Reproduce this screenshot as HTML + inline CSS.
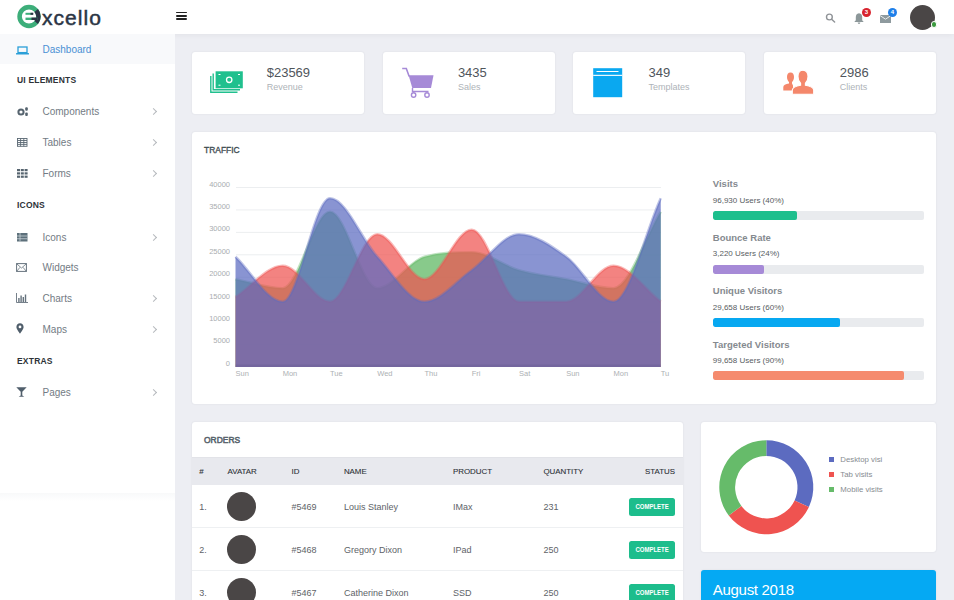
<!DOCTYPE html>
<html><head><meta charset="utf-8">
<style>
*{margin:0;padding:0;box-sizing:border-box}
html,body{width:954px;height:600px;overflow:hidden;background:#edeef3;font-family:"Liberation Sans",sans-serif;position:relative}
.abs{position:absolute}
.t{position:absolute;white-space:nowrap;line-height:1}
#header{left:0;top:0;width:954px;height:34px;background:#fff;box-shadow:0 1px 6px rgba(0,0,0,0.05)}
#sidebar{left:0;top:34px;width:175px;height:566px;background:#fff}
.card{position:absolute;background:#fff;border-radius:3px;box-shadow:0 0 2px rgba(40,40,70,0.10)}
.side-item{color:#737b84;font-size:10px}
.side-head{color:#2d3237;font-size:8.5px;font-weight:bold;letter-spacing:0.2px}
.chev{position:absolute;width:5px;height:5px;border-right:1px solid #b5b9bd;border-top:1px solid #b5b9bd;transform:rotate(45deg)}
.num{font-size:13px;color:#4f555b}
.lbl{font-size:9px;color:#aeb3b8}
.pl{font-size:9.5px;color:#858a8f;font-weight:bold}
.pu{font-size:8px;color:#585d62}
.bar{position:absolute;left:713px;width:211px;height:9px;background:#e9ebee;border-radius:2px;overflow:hidden}
.bar div{height:9px;border-radius:2px}
.th{font-size:7.9px;color:#2c3136;-webkit-text-stroke:0.1px #2c3136}
.td{font-size:9px;color:#5e6368}
.av{position:absolute;width:29px;height:29px;border-radius:50%;background:#4a4646}
.badge{position:absolute;left:628.8px;width:46.2px;height:18px;background:#1dbd8c;border-radius:2.5px;color:#fff;font-size:7.6px;font-weight:bold;text-align:center;line-height:18px}
.badge span{display:inline-block;transform:scaleX(0.79)}
.yl{font-size:7.5px;color:#a9adb0;text-align:right;width:41px}
.xl{font-size:7.5px;color:#adb1b4}
</style></head><body>

<!-- header -->
<div id="header" class="abs"></div>
<svg class="abs" style="left:14px;top:2px" width="30" height="30" viewBox="0 0 30 30">
  <circle cx="15" cy="14.5" r="9.4" fill="none" stroke="#3dae7a" stroke-width="4.6"/>
  <path d="M22.2,8.5 A9.4,9.4 0 0 1 22.2,20.5" fill="none" stroke="#2b3545" stroke-width="4.6"/>
  <rect x="11.5" y="10.8" width="7.5" height="2" fill="#3dae7a"/>
  <rect x="16.5" y="10.8" width="2.8" height="2" fill="#2b3545"/>
  <rect x="11.5" y="15.6" width="12" height="2.4" fill="#3dae7a"/>
  <rect x="17.5" y="15.6" width="6" height="2.4" fill="#2b3545"/>
</svg>
<div class="t" style="left:42px;top:7px;font-size:21px;color:#2b3545;letter-spacing:1.05px;-webkit-text-stroke:0.5px #2b3545">xcello</div>
<div class="abs" style="left:176px;top:11.5px;width:11px;height:1.6px;background:#222;border-radius:1px"></div>
<div class="abs" style="left:176px;top:15px;width:11px;height:1.6px;background:#222;border-radius:1px"></div>
<div class="abs" style="left:176px;top:18.4px;width:11px;height:1.6px;background:#222;border-radius:1px"></div>

<svg class="abs" style="left:824px;top:11px" width="14" height="14" viewBox="0 0 14 14">
  <circle cx="5.4" cy="6" r="2.9" fill="none" stroke="#909498" stroke-width="1.4"/>
  <line x1="7.6" y1="8.3" x2="10.6" y2="11" stroke="#909498" stroke-width="1.5" stroke-linecap="round"/>
</svg>
<svg class="abs" style="left:853px;top:12px" width="12" height="13" viewBox="0 0 12 13">
  <path d="M6,1.2 C3.6,1.2 2.8,3.4 2.8,5.6 L2.8,8.2 L1.3,9.9 L10.7,9.9 L9.2,8.2 L9.2,5.6 C9.2,3.4 8.4,1.2 6,1.2 Z" fill="#8c9799"/>
  <path d="M4.7,10.6 a1.3,1.3 0 0 0 2.6,0 Z" fill="#8c9799"/>
</svg>
<div class="abs" style="left:862px;top:8px;width:9px;height:9px;border-radius:50%;background:#d8242f;color:#fff;font-size:6px;font-weight:bold;text-align:center;line-height:9px">3</div>
<svg class="abs" style="left:880px;top:15px" width="11" height="8" viewBox="0 0 11 8">
  <rect x="0" y="0" width="11" height="8" fill="#8e9a9e"/>
  <path d="M0,0.5 L5.5,4.2 L11,0.5" fill="none" stroke="#fff" stroke-width="0.8"/>
</svg>
<div class="abs" style="left:888px;top:8px;width:9px;height:9px;border-radius:50%;background:#1e7fe9;color:#fff;font-size:6px;font-weight:bold;text-align:center;line-height:9px">4</div>
<div class="abs" style="left:910px;top:5px;width:25px;height:25px;border-radius:50%;background:#4a4646"></div>
<div class="abs" style="left:930.5px;top:21.3px;width:6.5px;height:6.5px;border-radius:50%;background:#3a9a3e;border:1.2px solid #fff"></div>

<!-- sidebar -->
<div id="sidebar" class="abs"></div>
<div class="abs" style="left:0;top:493px;width:175px;height:8px;background:linear-gradient(#f8f9fa,#fff)"></div>
<div class="abs" style="left:0;top:34px;width:175px;height:30px;background:#f8f9fb"></div>
<svg class="abs" style="left:16px;top:46px" width="13" height="9" viewBox="0 0 13 9">
  <rect x="2" y="1" width="9" height="5.6" fill="none" stroke="#2a9fd8" stroke-width="1.3"/>
  <rect x="0" y="7" width="13" height="1.6" rx="0.5" fill="#2a9fd8"/>
</svg>
<div class="t" style="left:42.5px;top:45.2px;font-size:10px;color:#4a90d4">Dashboard</div>

<div class="t side-head" style="left:17px;top:75.5px">UI ELEMENTS</div>

<svg class="abs" style="left:16.5px;top:106.5px" width="12" height="10" viewBox="0 0 12 10">
  <circle cx="4" cy="5" r="2.6" fill="none" stroke="#56646f" stroke-width="2"/>
  <rect x="8.2" y="0.3" width="2.6" height="3.4" rx="1" fill="#56646f"/>
  <rect x="8.2" y="5.6" width="2.6" height="3.4" rx="1" fill="#56646f"/>
</svg>
<div class="t side-item" style="left:42.5px;top:107.0px">Components</div>
<div class="chev" style="left:151px;top:109px"></div>

<svg class="abs" style="left:16.5px;top:138px" width="11" height="9" viewBox="0 0 11 9">
  <g stroke="#5a6873" stroke-width="0.9" fill="none">
    <rect x="0.5" y="0.5" width="9.5" height="7.8"/>
    <line x1="0.5" y1="2.5" x2="10" y2="2.5"/><line x1="0.5" y1="4.5" x2="10" y2="4.5"/><line x1="0.5" y1="6.4" x2="10" y2="6.4"/>
    <line x1="3.6" y1="0.5" x2="3.6" y2="8.3"/><line x1="6.8" y1="0.5" x2="6.8" y2="8.3"/>
  </g>
</svg>
<div class="t side-item" style="left:42.5px;top:138.3px">Tables</div>
<div class="chev" style="left:151px;top:140.3px"></div>

<svg class="abs" style="left:16.5px;top:169.3px" width="11" height="9" viewBox="0 0 11 9">
  <g fill="#56646f">
    <rect x="0" y="0" width="3" height="2.2"/><rect x="3.8" y="0" width="3" height="2.2"/><rect x="7.6" y="0" width="3" height="2.2"/>
    <rect x="0" y="3.3" width="3" height="2.2"/><rect x="3.8" y="3.3" width="3" height="2.2"/><rect x="7.6" y="3.3" width="3" height="2.2"/>
    <rect x="0" y="6.6" width="3" height="2.2"/><rect x="3.8" y="6.6" width="3" height="2.2"/><rect x="7.6" y="6.6" width="3" height="2.2"/>
  </g>
</svg>
<div class="t side-item" style="left:42.5px;top:169.4px">Forms</div>
<div class="chev" style="left:151px;top:171.4px"></div>

<div class="t side-head" style="left:17px;top:201.2px">ICONS</div>

<svg class="abs" style="left:16.5px;top:233px" width="11" height="9" viewBox="0 0 11 9">
  <rect x="0" y="0" width="10.5" height="8.5" fill="#5d707b"/>
  <g fill="#c9d1d6"><rect x="0" y="2.6" width="10.5" height="0.8"/><rect x="0" y="5.4" width="10.5" height="0.8"/><rect x="2.6" y="0" width="0.8" height="8.5"/></g>
</svg>
<div class="t side-item" style="left:42.5px;top:232.7px">Icons</div>
<div class="chev" style="left:151px;top:234.7px"></div>

<svg class="abs" style="left:16px;top:263px" width="11" height="9" viewBox="0 0 11 9">
  <rect x="0.6" y="0.6" width="9.8" height="7.8" fill="none" stroke="#66737e" stroke-width="1"/>
  <path d="M0.8,0.9 L5.5,5 L10.2,0.9 M0.8,8.2 L4,4.3 M10.2,8.2 L7,4.3" fill="none" stroke="#66737e" stroke-width="0.8"/>
</svg>
<div class="t side-item" style="left:42.5px;top:262.7px">Widgets</div>

<svg class="abs" style="left:16px;top:292.5px" width="12" height="10" viewBox="0 0 12 10">
  <path d="M0.5,0 L0.5,9.5 L12,9.5" fill="none" stroke="#66737e" stroke-width="0.9"/>
  <g fill="#66737e"><rect x="2.2" y="5" width="1.4" height="4"/><rect x="4.4" y="2.5" width="1.4" height="6.5"/><rect x="6.6" y="4" width="1.4" height="5"/><rect x="8.8" y="1.5" width="1.4" height="7.5"/></g>
</svg>
<div class="t side-item" style="left:42.5px;top:293.5px">Charts</div>
<div class="chev" style="left:151px;top:295.5px"></div>

<svg class="abs" style="left:16px;top:323px" width="8" height="11" viewBox="0 0 8 11">
  <path d="M4,0.3 C1.9,0.3 0.4,1.8 0.4,3.9 C0.4,6.2 4,10.5 4,10.5 C4,10.5 7.6,6.2 7.6,3.9 C7.6,1.8 6.1,0.3 4,0.3 Z M4,2.5 a1.4,1.4 0 1 1 0,2.8 a1.4,1.4 0 1 1 0,-2.8 Z" fill="#505e6b" fill-rule="evenodd"/>
</svg>
<div class="t side-item" style="left:42.5px;top:324.5px">Maps</div>
<div class="chev" style="left:151px;top:326.5px"></div>

<div class="t side-head" style="left:17px;top:356.5px">EXTRAS</div>

<svg class="abs" style="left:16px;top:387px" width="11" height="10" viewBox="0 0 11 10">
  <path d="M0.3,0.3 L10.7,0.3 L6.3,4.8 L6.3,8.6 L8.3,9.7 L2.7,9.7 L4.7,8.6 L4.7,4.8 Z" fill="#505e6b"/>
</svg>
<div class="t side-item" style="left:42.5px;top:387.5px">Pages</div>
<div class="chev" style="left:151px;top:389.5px"></div>

<!-- stat cards -->
<div class="card" style="left:192px;top:52px;width:172px;height:62px"></div>
<div class="card" style="left:382.7px;top:52px;width:172px;height:62px"></div>
<div class="card" style="left:573.4px;top:52px;width:172px;height:62px"></div>
<div class="card" style="left:764.1px;top:52px;width:172px;height:62px"></div>

<svg class="abs" style="left:209px;top:69px" width="36" height="26" viewBox="0 0 36 26">
  <g fill="none" stroke="#20c08e" stroke-width="1.4">
    <path d="M4.2,4.6 L4.2,20.7 L31,20.7"/>
    <path d="M1.8,7 L1.8,23.2 L28.5,23.2"/>
  </g>
  <rect x="6.6" y="2.3" width="27.2" height="17" fill="#20c08e"/>
  <circle cx="20.2" cy="10.8" r="2.7" fill="none" stroke="#fff" stroke-width="1.3"/>
  <g fill="#fff"><rect x="9.5" y="5" width="2" height="1"/><rect x="29" y="5" width="2" height="1"/><rect x="9.5" y="15.7" width="2" height="1"/><rect x="29" y="15.7" width="2" height="1"/></g>
</svg>
<div class="t num" style="left:266.7px;top:65.8px">$23569</div>
<div class="t lbl" style="left:266.7px;top:82.8px">Revenue</div>

<svg class="abs" style="left:401px;top:66.8px" width="34" height="32" viewBox="0 0 34 32">
  <path d="M1.2,1.5 L5.3,1.5 L8.2,9.5" fill="none" stroke="#a68ad7" stroke-width="1.6"/>
  <path d="M7.6,8.3 L32.5,8.3 L30,21 L11.3,21 Z" fill="#a68ad7"/>
  <path d="M11.5,21 L11.5,24.5 L27.5,24.5" fill="none" stroke="#a68ad7" stroke-width="1.4"/>
  <circle cx="12.6" cy="28" r="2.2" fill="none" stroke="#a68ad7" stroke-width="1.4"/>
  <circle cx="26" cy="28" r="2.2" fill="none" stroke="#a68ad7" stroke-width="1.4"/>
</svg>
<div class="t num" style="left:457.9px;top:65.8px">3435</div>
<div class="t lbl" style="left:457.9px;top:82.8px">Sales</div>

<svg class="abs" style="left:593px;top:67.5px" width="30" height="30" viewBox="0 0 30 30">
  <rect x="0.2" y="0.2" width="29" height="29" fill="#0aa8f0"/>
  <rect x="0.2" y="6.8" width="29" height="1.1" fill="#fff"/>
  <rect x="3.5" y="3" width="22" height="1" fill="#fff"/>
</svg>
<div class="t num" style="left:648.6px;top:65.8px">349</div>
<div class="t lbl" style="left:648.6px;top:82.8px">Templates</div>

<svg class="abs" style="left:782px;top:70px" width="33" height="25" viewBox="0 0 33 25">
  <path d="M8.5,2.5 C6,2.5 5,4.5 5,7 C5,9.5 6,11 7,12 L7,13.5 C3.5,14.2 1.3,15.2 1.3,17 L1.3,20.5 L11,20.5 L11,15.5 L10,13.5 L10,12 C11,11 12,9.5 12,7 C12,4.5 11,2.5 8.5,2.5 Z" fill="#f4876b"/>
  <path d="M21,0.3 C17.5,0.3 16,3.3 16,6.5 C16,9.8 17.2,12 18.6,13.2 L18.6,15.2 C13.5,16.2 10.3,17.5 10.3,20 L10.3,24.2 L31.7,24.2 L31.7,20 C31.7,17.5 28.5,16.2 23.4,15.2 L23.4,13.2 C24.8,12 26,9.8 26,6.5 C26,3.3 24.5,0.3 21,0.3 Z" fill="#f4876b" stroke="#fff" stroke-width="1.1"/>
</svg>
<div class="t num" style="left:839.8px;top:65.8px">2986</div>
<div class="t lbl" style="left:839.8px;top:82.8px">Clients</div>

<!-- traffic -->
<div class="card" style="left:192px;top:131.5px;width:744px;height:272.5px"></div>
<div class="t" style="left:204.3px;top:144.5px;font-size:9.4px;color:#3f4d52;-webkit-text-stroke:0.35px #3f4d52;transform:scaleX(0.9);transform-origin:0 0">TRAFFIC</div>

<svg class="abs" style="left:0;top:0" width="954" height="600" viewBox="0 0 954 600">
  <defs><clipPath id="ca"><rect x="234" y="170" width="428.5" height="197"/></clipPath></defs>
  <g stroke="#eceef0" stroke-width="1">
    <line x1="236" y1="187.50" x2="661" y2="187.50"/>
    <line x1="236" y1="209.94" x2="661" y2="209.94"/>
    <line x1="236" y1="232.38" x2="661" y2="232.38"/>
    <line x1="236" y1="254.81" x2="661" y2="254.81"/>
    <line x1="236" y1="277.25" x2="661" y2="277.25"/>
    <line x1="236" y1="299.69" x2="661" y2="299.69"/>
    <line x1="236" y1="322.12" x2="661" y2="322.12"/>
    <line x1="236" y1="344.56" x2="661" y2="344.56"/>
  </g>
  <g clip-path="url(#ca)">
  <path d="M235.50,367.0 L235.50,279.20 C251.25,282.20 267.00,288.20 282.75,288.20 C298.50,288.20 314.25,211.70 330.00,211.70 C345.75,211.70 361.50,288.20 377.25,288.20 C393.00,288.20 408.75,261.20 424.50,256.70 C440.25,252.20 456.00,252.20 471.75,252.20 C487.50,252.20 503.25,265.70 519.00,270.20 C534.75,274.70 550.50,276.20 566.25,279.20 C582.00,282.20 597.75,288.20 613.50,288.20 C629.25,288.20 645.00,237.20 660.75,211.70 L660.75,367.0 Z" fill="rgba(102,187,106,0.78)"/>
  <path d="M235.50,279.20 C251.25,282.20 267.00,288.20 282.75,288.20 C298.50,288.20 314.25,211.70 330.00,211.70 C345.75,211.70 361.50,288.20 377.25,288.20 C393.00,288.20 408.75,261.20 424.50,256.70 C440.25,252.20 456.00,252.20 471.75,252.20 C487.50,252.20 503.25,265.70 519.00,270.20 C534.75,274.70 550.50,276.20 566.25,279.20 C582.00,282.20 597.75,288.20 613.50,288.20 C629.25,288.20 645.00,237.20 660.75,211.70" fill="none" stroke="rgba(102,187,106,0.4)" stroke-width="2.6"/>
  <path d="M235.50,367.0 L235.50,297.20 C251.25,286.70 267.00,265.70 282.75,265.70 C298.50,265.70 314.25,301.70 330.00,301.70 C345.75,301.70 361.50,234.20 377.25,234.20 C393.00,234.20 408.75,279.20 424.50,279.20 C440.25,279.20 456.00,229.70 471.75,229.70 C487.50,229.70 503.25,301.70 519.00,301.70 C534.75,301.70 550.50,301.70 566.25,301.70 C582.00,301.70 597.75,265.70 613.50,265.70 C629.25,265.70 645.00,289.70 660.75,301.70 L660.75,367.0 Z" fill="rgba(239,83,80,0.72)"/>
  <path d="M235.50,297.20 C251.25,286.70 267.00,265.70 282.75,265.70 C298.50,265.70 314.25,301.70 330.00,301.70 C345.75,301.70 361.50,234.20 377.25,234.20 C393.00,234.20 408.75,279.20 424.50,279.20 C440.25,279.20 456.00,229.70 471.75,229.70 C487.50,229.70 503.25,301.70 519.00,301.70 C534.75,301.70 550.50,301.70 566.25,301.70 C582.00,301.70 597.75,265.70 613.50,265.70 C629.25,265.70 645.00,289.70 660.75,301.70" fill="none" stroke="rgba(239,83,80,0.4)" stroke-width="2.6"/>
  <path d="M235.50,367.0 L235.50,256.70 C251.25,271.70 267.00,301.70 282.75,301.70 C298.50,301.70 314.25,198.20 330.00,198.20 C345.75,198.20 361.50,239.45 377.25,256.70 C393.00,273.95 408.75,301.70 424.50,301.70 C440.25,301.70 456.00,281.45 471.75,270.20 C487.50,258.95 503.25,234.20 519.00,234.20 C534.75,234.20 550.50,245.45 566.25,256.70 C582.00,267.95 597.75,301.70 613.50,301.70 C629.25,301.70 645.00,232.70 660.75,198.20 L660.75,367.0 Z" fill="rgba(92,107,192,0.72)"/>
  <path d="M235.50,256.70 C251.25,271.70 267.00,301.70 282.75,301.70 C298.50,301.70 314.25,198.20 330.00,198.20 C345.75,198.20 361.50,239.45 377.25,256.70 C393.00,273.95 408.75,301.70 424.50,301.70 C440.25,301.70 456.00,281.45 471.75,270.20 C487.50,258.95 503.25,234.20 519.00,234.20 C534.75,234.20 550.50,245.45 566.25,256.70 C582.00,267.95 597.75,301.70 613.50,301.70 C629.25,301.70 645.00,232.70 660.75,198.20" fill="none" stroke="rgba(92,107,192,0.4)" stroke-width="2.6"/>
  <rect x="235.5" y="364.5" width="425.25" height="2.5" fill="rgba(80,70,120,0.18)"/>
  </g>
</svg>
<div class="t yl" style="left:189px;top:180.5px">40000</div>
<div class="t yl" style="left:189px;top:203px">35000</div>
<div class="t yl" style="left:189px;top:225.3px">30000</div>
<div class="t yl" style="left:189px;top:247.7px">25000</div>
<div class="t yl" style="left:189px;top:270px">20000</div>
<div class="t yl" style="left:189px;top:292.5px">15000</div>
<div class="t yl" style="left:189px;top:314.8px">10000</div>
<div class="t yl" style="left:189px;top:337.2px">5000</div>
<div class="t yl" style="left:189px;top:359.5px">0</div>
<div class="t xl" style="left:235.5px;top:370px">Sun</div>
<div class="t xl" style="left:282.7px;top:370px">Mon</div>
<div class="t xl" style="left:330px;top:370px">Tue</div>
<div class="t xl" style="left:377.2px;top:370px">Wed</div>
<div class="t xl" style="left:424.5px;top:370px">Thu</div>
<div class="t xl" style="left:471.7px;top:370px">Fri</div>
<div class="t xl" style="left:519px;top:370px">Sat</div>
<div class="t xl" style="left:566.2px;top:370px">Sun</div>
<div class="t xl" style="left:613.5px;top:370px">Mon</div>
<div class="t xl" style="left:660.7px;top:370px">Tu</div>

<div class="t pl" style="left:712.8px;top:179px">Visits</div>
<div class="t pu" style="left:712.8px;top:197.2px">96,930 Users (40%)</div>
<div class="bar" style="top:211px"><div style="width:40%;background:#1dbf8d"></div></div>
<div class="t pl" style="left:712.8px;top:232.5px">Bounce Rate</div>
<div class="t pu" style="left:712.8px;top:250.3px">3,220 Users (24%)</div>
<div class="bar" style="top:264.5px"><div style="width:24%;background:#a68ad7"></div></div>
<div class="t pl" style="left:712.8px;top:286px">Unique Visitors</div>
<div class="t pu" style="left:712.8px;top:303.8px">29,658 Users (60%)</div>
<div class="bar" style="top:318px"><div style="width:60%;background:#07a8f1"></div></div>
<div class="t pl" style="left:712.8px;top:339.5px">Targeted Visitors</div>
<div class="t pu" style="left:712.8px;top:357.2px">99,658 Users (90%)</div>
<div class="bar" style="top:371.2px"><div style="width:90.5%;background:#f58b6e"></div></div>

<!-- orders -->
<div class="card" style="left:192px;top:421.5px;width:490.5px;height:190px"></div>
<div class="t" style="left:204.3px;top:435.3px;font-size:9.6px;color:#56616a;-webkit-text-stroke:0.55px #56616a;transform:scaleX(0.88);transform-origin:0 0">ORDERS</div>
<div class="abs" style="left:192px;top:457px;width:490.5px;height:27.5px;background:#e8e9ee;border-top:1px solid #e2e3e8"></div>
<div class="t th" style="left:199.2px;top:468px">#</div>
<div class="t th" style="left:227.6px;top:468px">AVATAR</div>
<div class="t th" style="left:291.5px;top:468px">ID</div>
<div class="t th" style="left:343.9px;top:468px">NAME</div>
<div class="t th" style="left:453px;top:468px">PRODUCT</div>
<div class="t th" style="left:543.4px;top:468px">QUANTITY</div>
<div class="t th" style="left:640px;top:468px;width:35px;text-align:right">STATUS</div>

<div class="abs" style="left:192px;top:527px;width:490.5px;height:1px;background:#eef0f2"></div>
<div class="abs" style="left:192px;top:570px;width:490.5px;height:1px;background:#eef0f2"></div>

<div class="t td" style="left:199.2px;top:503px">1.</div>
<div class="av" style="left:226.6px;top:492px"></div>
<div class="t td" style="left:291.5px;top:503px">#5469</div>
<div class="t td" style="left:343.9px;top:503px">Louis Stanley</div>
<div class="t td" style="left:453px;top:503px">IMax</div>
<div class="t td" style="left:543.4px;top:503px">231</div>
<div class="badge" style="top:497.8px"><span>COMPLETE</span></div>

<div class="t td" style="left:199.2px;top:546px">2.</div>
<div class="av" style="left:226.6px;top:535px"></div>
<div class="t td" style="left:291.5px;top:546px">#5468</div>
<div class="t td" style="left:343.9px;top:546px">Gregory Dixon</div>
<div class="t td" style="left:453px;top:546px">IPad</div>
<div class="t td" style="left:543.4px;top:546px">250</div>
<div class="badge" style="top:540.8px"><span>COMPLETE</span></div>

<div class="t td" style="left:199.2px;top:589px">3.</div>
<div class="av" style="left:226.6px;top:578px"></div>
<div class="t td" style="left:291.5px;top:589px">#5467</div>
<div class="t td" style="left:343.9px;top:589px">Catherine Dixon</div>
<div class="t td" style="left:453px;top:589px">SSD</div>
<div class="t td" style="left:543.4px;top:589px">250</div>
<div class="badge" style="top:583.8px"><span>COMPLETE</span></div>

<!-- donut -->
<div class="card" style="left:700.5px;top:421.5px;width:235.5px;height:130px"></div>
<svg class="abs" style="left:0;top:0" width="954" height="600" viewBox="0 0 954 600">
  <path d="M766.30,440.20 A47.0,47.0 0 0 1 808.90,507.06 L794.58,500.39 A31.2,31.2 0 0 0 766.30,456.00 Z" fill="#5c6bc0"/><path d="M808.90,507.06 A47.0,47.0 0 0 1 728.76,515.49 L741.38,505.98 A31.2,31.2 0 0 0 794.58,500.39 Z" fill="#ef5350"/><path d="M728.76,515.49 A47.0,47.0 0 0 1 766.30,440.20 L766.30,456.00 A31.2,31.2 0 0 0 741.38,505.98 Z" fill="#66bb6a"/>
</svg>
<div class="abs" style="left:829px;top:456.5px;width:5px;height:5px;background:#5c6bc0"></div>
<div class="abs" style="left:829px;top:471.7px;width:5px;height:5px;background:#ef5350"></div>
<div class="abs" style="left:829px;top:486.6px;width:5px;height:5px;background:#66bb6a"></div>
<div class="t" style="left:840.3px;top:456.2px;font-size:7.8px;color:#878c91">Desktop visi</div>
<div class="t" style="left:840.3px;top:471.4px;font-size:7.8px;color:#878c91">Tab visits</div>
<div class="t" style="left:840.3px;top:486.3px;font-size:7.8px;color:#878c91">Mobile visits</div>

<!-- august -->
<div class="card" style="left:700.5px;top:570px;width:235.5px;height:60px;background:#05a9f3"></div>
<div class="t" style="left:712.8px;top:582.3px;font-size:15px;color:#fff;letter-spacing:-0.3px">August 2018</div>

</body></html>
